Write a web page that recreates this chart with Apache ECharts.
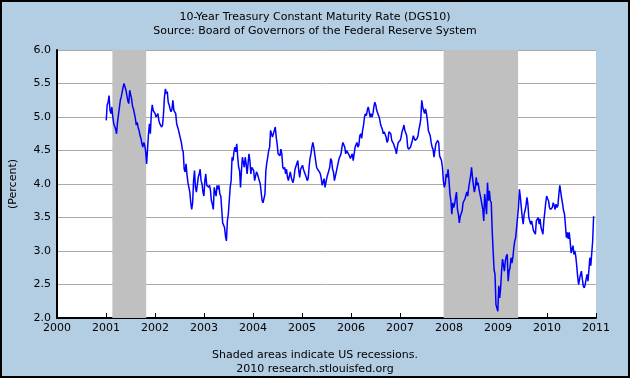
<!DOCTYPE html>
<html><head><meta charset="utf-8">
<script src="https://cdn.jsdelivr.net/npm/echarts@6/dist/echarts.min.js"></script>
<style>html,body{margin:0;padding:0;background:#b3cde3}#c{width:630px;height:378px}</style>
</head><body><div id="c"></div>
<script>
// Weekly readings of DGS10 (percent), each year starts on the listed date, 7-day steps
const startDate = [2001, 0, 2];
const y2001 = [4.95,5.18,5.22,5.32,5.10,5.05,5.15,5.00,4.90,4.92,4.82,4.75,4.92,4.90,5.14,5.25,5.30,5.28,5.45,5.50,5.45,5.40,5.32,5.24,5.20,5.40,5.38,5.27,5.16,5.12,5.05,4.98,4.88,4.92,4.84,4.80,4.72,4.68,4.60,4.55,4.62,4.58,4.48,4.30,4.28,4.75,4.90,4.75,5.05,5.18,5.10,5.12];
const y2002 = [5.05,5.00,4.98,5.05,4.95,4.90,4.92,4.85,4.88,5.05,5.30,5.42,5.35,5.38,5.22,5.18,5.12,5.08,5.12,5.25,5.10,5.08,5.05,4.90,4.85,4.80,4.82,4.80,4.62,4.52,4.48,4.22,4.18,4.30,4.14,4.02,4.00,3.88,3.72,3.62,3.72,4.05,4.20,3.95,3.88,3.90,4.10,4.15,4.22,4.05,4.00,3.88];
const y2003 = [3.82,4.05,4.15,3.98,4.00,3.95,3.98,3.90,3.75,3.70,3.62,3.95,3.88,3.82,3.98,3.92,3.98,3.85,3.82,3.62,3.42,3.40,3.35,3.22,3.15,3.45,3.55,3.75,3.95,4.05,4.40,4.35,4.48,4.55,4.48,4.60,4.40,4.25,4.20,3.95,4.20,4.40,4.38,4.25,4.40,4.30,4.15,4.30,4.45,4.35,4.15,4.25];
const y2004 = [4.25,4.20,4.05,4.05,4.18,4.15,4.15,4.05,4.00,3.98,3.75,3.72,3.72,3.85,4.20,4.32,4.40,4.50,4.55,4.80,4.75,4.70,4.72,4.80,4.85,4.70,4.60,4.45,4.45,4.42,4.52,4.45,4.25,4.22,4.25,4.15,4.22,4.10,4.05,4.12,4.18,4.10,4.05,4.02,4.10,4.22,4.20,4.20,4.35,4.20,4.10,4.22];
const y2005 = [4.25,4.28,4.22,4.18,4.18,4.10,4.05,4.08,4.25,4.38,4.45,4.55,4.62,4.55,4.45,4.35,4.25,4.22,4.20,4.18,4.15,4.08,3.98,4.00,4.08,3.95,3.95,4.10,4.15,4.20,4.25,4.38,4.35,4.22,4.18,4.05,4.05,4.18,4.25,4.32,4.38,4.40,4.45,4.55,4.62,4.60,4.55,4.45,4.50,4.52,4.48,4.42];
const y2006 = [4.38,4.38,4.45,4.35,4.45,4.55,4.55,4.62,4.55,4.58,4.72,4.75,4.68,4.80,4.88,5.00,5.05,5.02,5.10,5.15,5.08,5.00,5.05,5.00,5.05,5.15,5.22,5.18,5.10,5.08,5.02,4.98,4.90,4.85,4.82,4.75,4.78,4.78,4.70,4.62,4.65,4.78,4.80,4.75,4.65,4.65,4.60,4.55,4.52,4.45,4.55,4.62];
const y2007 = [4.62,4.65,4.70,4.78,4.82,4.88,4.80,4.78,4.72,4.55,4.52,4.50,4.55,4.60,4.65,4.72,4.68,4.65,4.65,4.68,4.72,4.82,4.88,4.98,5.25,5.15,5.10,5.05,5.12,5.05,4.95,4.80,4.78,4.72,4.62,4.55,4.52,4.40,4.50,4.60,4.58,4.65,4.62,4.42,4.40,4.35,4.25,4.05,3.95,4.00,4.15,4.10];
const y2008 = [4.22,4.05,3.85,3.75,3.55,3.72,3.65,3.70,3.80,3.88,3.62,3.55,3.42,3.52,3.52,3.60,3.72,3.75,3.78,3.80,3.88,3.82,3.95,3.95,4.12,4.25,4.10,3.98,3.88,3.95,4.10,3.98,4.02,3.92,3.85,3.78,3.70,3.62,3.45,3.85,3.70,3.55,4.02,3.75,3.90,3.75,3.72,3.30,3.00,2.72,2.65,2.20];
const y2009 = [2.15,2.10,2.48,2.30,2.45,2.70,2.88,2.88,2.70,2.85,2.92,2.95,2.55,2.70,2.75,2.90,2.82,2.90,3.05,3.15,3.20,3.22,3.50,3.65,3.92,3.80,3.65,3.50,3.40,3.55,3.60,3.68,3.80,3.70,3.50,3.45,3.40,3.45,3.45,3.30,3.28,3.25,3.45,3.45,3.50,3.40,3.48,3.35,3.30,3.25,3.45,3.58];
const y2010 = [3.72,3.82,3.78,3.75,3.65,3.62,3.62,3.65,3.72,3.68,3.62,3.70,3.65,3.68,3.85,3.98,3.88,3.78,3.70,3.60,3.55,3.38,3.20,3.28,3.18,3.28,3.15,2.97,2.98,3.08,2.95,3.00,2.92,2.78,2.62,2.50,2.48,2.65,2.70,2.58,2.48,2.45,2.50,2.50,2.65,2.55,2.72,2.90,2.78,2.80,3.15,3.52];
const recessionStart = [2001.13, 2007.89];
const recessionEnd = [2001.82, 2009.41];
const yTicks = [2.0,2.5,3.0,3.5,4.0,4.5,5.0,5.5,6.0];
const xTickYears = [2000,2001,2002,2003,2004,2005,2006,2007,2008,2009,2010,2011];

const values = [].concat(y2001,y2002,y2003,y2004,y2005,y2006,y2007,y2008,y2009,y2010);
const t0 = Date.UTC(startDate[0], startDate[1], startDate[2]);
const base = Date.UTC(2000,0,1);
const data = values.map((v,i)=>{
  const t = t0 + i*7*86400000;
  return [2000 + (t-base)/(365.25*86400000), v];
});
const font = 'DejaVu Sans';
const chart = echarts.init(document.getElementById('c'));
chart.setOption({
  animation:false,
  backgroundColor:'#b3cde3',
  textStyle:{fontFamily:font},
  title:[
    {text:'10-Year Treasury Constant Maturity Rate (DGS10)\nSource: Board of Governors of the Federal Reserve System',
     left:'center', top:10, padding:0,
     textStyle:{fontFamily:font,fontSize:11,fontWeight:'normal',color:'#000',lineHeight:14}},
    {text:'Shaded areas indicate US recessions.\n2010 research.stlouisfed.org',
     left:'center', top:348, padding:0,
     textStyle:{fontFamily:font,fontSize:11,fontWeight:'normal',color:'#000',lineHeight:14}}
  ],
  grid:{left:52,right:34,top:50,bottom:60,show:true,backgroundColor:'#fff',borderWidth:0},
  xAxis:{type:'value',min:xTickYears[0],max:xTickYears[xTickYears.length-1],interval:1,
    axisLine:{show:true,onZero:false,lineStyle:{color:'#000',width:2}},
    axisTick:{show:true,inside:true,length:5,lineStyle:{color:'#000',width:1}},
    axisLabel:{margin:5,color:'#000',fontSize:11,fontFamily:font,formatter:v=>String(v)},
    splitLine:{show:false}},
  yAxis:{type:'value',min:yTicks[0],max:yTicks[yTicks.length-1],interval:0.5,
    name:'(Percent)',nameLocation:'middle',nameGap:38,nameRotate:90,
    nameTextStyle:{color:'#000',fontSize:11,fontFamily:font},
    axisLine:{show:true,lineStyle:{color:'#000',width:2}},
    axisTick:{show:false},
    axisLabel:{margin:6,color:'#000',fontSize:11,fontFamily:font,formatter:v=>v.toFixed(1)},
    splitLine:{show:true,lineStyle:{color:'#aaaaaa',width:1}}},
  series:[{type:'line',data:data,showSymbol:false,symbol:'none',
    lineStyle:{color:'#0000ff',width:1.5},
    markArea:{silent:true,itemStyle:{color:'#c0c0c0'},
      data:recessionStart.map((s,i)=>[{xAxis:s},{xAxis:recessionEnd[i]}])}
  }],
  graphic:[{type:'rect',shape:{x:1,y:1,width:628,height:376},style:{fill:'none',stroke:'#000',lineWidth:2},silent:true,z:100}]
});
</script></body></html>
